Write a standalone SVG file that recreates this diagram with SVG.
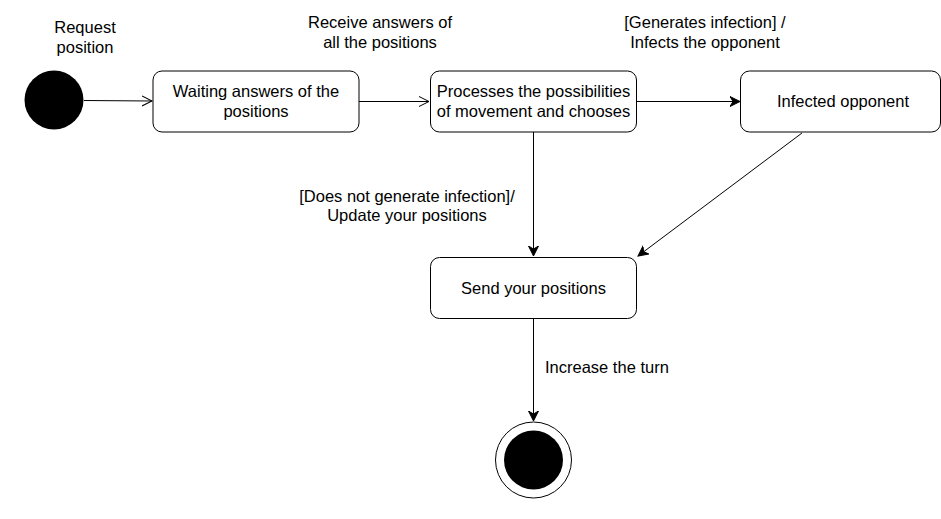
<svg xmlns="http://www.w3.org/2000/svg" width="941" height="519" viewBox="0 0 941 519">
<defs>
<style>
text{font-family:"Liberation Sans",Arial,sans-serif;font-size:16.5px;fill:#000;text-anchor:middle}
.box{fill:#fff;stroke:#000;stroke-width:1}
.ln{stroke:#000;stroke-width:1;fill:none}
</style>
<marker id="open" markerWidth="12" markerHeight="12" refX="10" refY="5" orient="auto" markerUnits="userSpaceOnUse" viewBox="0 0 12 10">
<path d="M0,0 L10,5 L0,10" fill="none" stroke="#000" stroke-width="1"/>
</marker>
<marker id="fill" markerWidth="12" markerHeight="12" refX="10" refY="5" orient="auto" markerUnits="userSpaceOnUse" viewBox="0 0 12 10">
<path d="M0,0 L10,5 L0,10 L3,5 Z" fill="#000" stroke="#000" stroke-width="1"/>
</marker>
</defs>
<rect width="941" height="519" fill="#fff"/>
<g id="connectors">
<line class="ln" x1="84" y1="100.5" x2="152" y2="101" marker-end="url(#open)"/>
<line class="ln" x1="359" y1="101.5" x2="429" y2="101.5" marker-end="url(#open)"/>
<line class="ln" x1="636" y1="101.5" x2="740" y2="101.5" marker-end="url(#fill)"/>
<line class="ln" x1="533.5" y1="132" x2="533.5" y2="256" marker-end="url(#fill)"/>
<line class="ln" x1="802" y1="133" x2="638" y2="256" marker-end="url(#fill)"/>
<line class="ln" x1="533.5" y1="319" x2="533.5" y2="421" marker-end="url(#fill)"/>
<text x="85" y="33">Request</text>
<text x="85" y="53">position</text>
<text x="380" y="28">Receive answers of</text>
<text x="380" y="48">all the positions</text>
<text x="705" y="28">[Generates infection] /</text>
<text x="705" y="48">Infects the opponent</text>
<text x="407" y="202">[Does not generate infection]/</text>
<text x="407" y="221">Update your positions</text>
<text x="545" y="373" style="text-anchor:start">Increase the turn</text>
</g>
<g id="start"><circle cx="54" cy="100" r="29.5" fill="#000"/></g>
<g id="waiting"><rect class="box" x="153" y="71" width="206" height="61" rx="9"/><text x="256" y="97">Waiting answers of the</text><text x="256" y="117">positions</text></g>
<g id="processes"><rect class="box" x="430.5" y="71" width="206" height="61" rx="9"/><text x="533.5" y="97">Processes the possibilities</text><text x="533.5" y="117">of movement and chooses</text></g>
<g id="infected"><rect class="box" x="740.5" y="71" width="200" height="61" rx="9"/><text x="843" y="107">Infected opponent</text></g>
<g id="send"><rect class="box" x="430.5" y="257.5" width="206" height="61" rx="9"/><text x="533.5" y="294">Send your positions</text></g>
<g id="end"><circle cx="533.5" cy="460" r="38" fill="#fff" stroke="#000" stroke-width="1"/><circle cx="533.5" cy="460" r="29.5" fill="#000"/></g>
</svg>
